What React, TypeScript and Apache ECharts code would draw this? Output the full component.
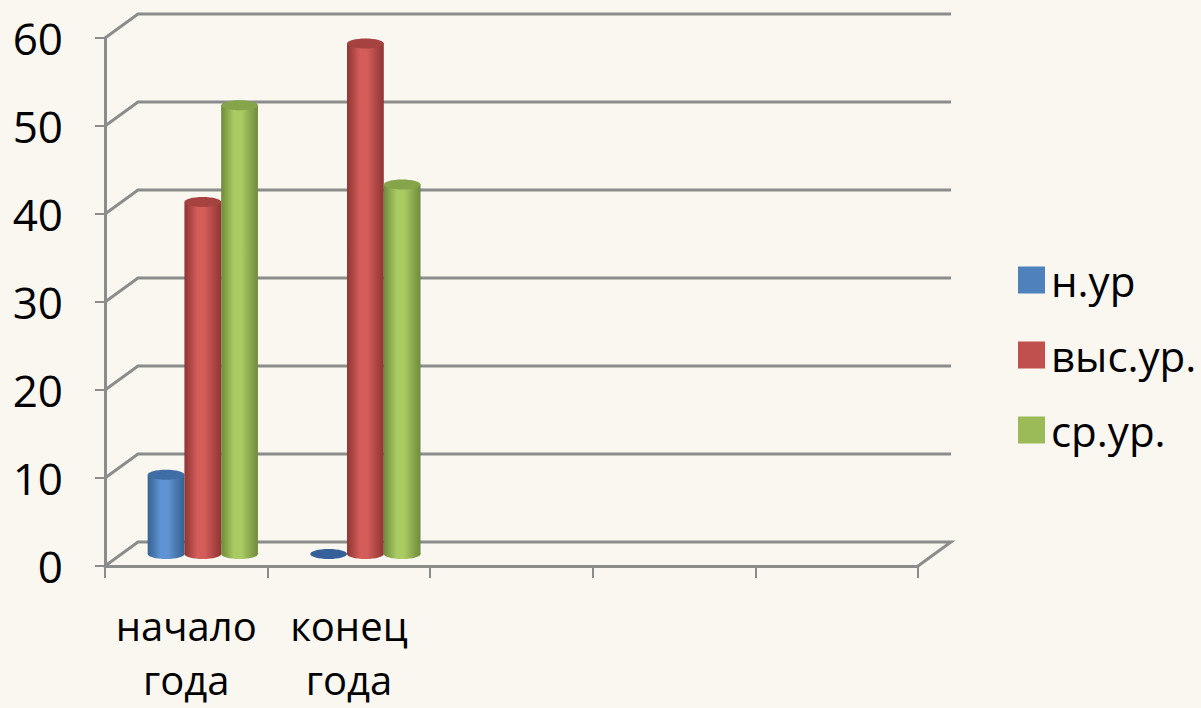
import React, { useEffect, useRef } from "react";
import * as echarts from "echarts";

const categories = ["начало\nгода", "конец\nгода", "", "", ""];
const seriesNames = ["н.ур", "выс.ур.", "ср.ур."];
const lowValues = [9, 0];
const highValues = [40, 58];
const midValues = [51, 42];
const yTicks = [0, 10, 20, 30, 40, 50, 60];

const FONT = "'Open Sans', 'Noto Sans', sans-serif";
const BG = "#FAF7F0";
const GRID = "#8C8C8C";
const DX = 33;
const DY = -24;

const palettes = [
  { base: "#4F81BD", light: "#5F93D3", dark: "#36618F", top: "#3F6DA6" },
  { base: "#C0504D", light: "#D45C59", dark: "#8F3533", top: "#A64240" },
  { base: "#9BBB59", light: "#A9CB62", dark: "#6F8A3B", top: "#86A449" },
];

function cylinderSeries(name: string, values: number[], idx: number) {
  const p = palettes[idx];
  return {
    type: "custom",
    name,
    itemStyle: { color: p.base },
    data: values.map((v, i) => [i, v]),
    z: 10,
    renderItem: (params: any, api: any) => {
      const cat = api.value(0);
      const val = api.value(1);
      const band = api.size([1, 0])[0];
      const w = band * 0.226;
      const c = api.coord([cat, 0]);
      const top = api.coord([cat, val]);
      const cx = c[0] + (idx - 1) * w + DX / 2;
      const by = c[1] + DY / 2;
      const ty = top[1] + DY / 2;
      const rx = w / 2;
      const ry = 5;
      if (val <= 0) {
        return {
          type: "ellipse",
          shape: { cx, cy: by, rx, ry },
          style: { fill: "#35609A" },
        };
      }
      const grad = new echarts.graphic.LinearGradient(0, 0, 1, 0, [
        { offset: 0, color: p.dark },
        { offset: 0.35, color: p.light },
        { offset: 0.55, color: p.light },
        { offset: 1, color: p.dark },
      ]);
      return {
        type: "group",
        children: [
          {
            type: "ellipse",
            shape: { cx, cy: by, rx, ry },
            style: { fill: grad },
          },
          {
            type: "rect",
            shape: { x: cx - rx, y: ty, width: w, height: by - ty },
            style: { fill: grad },
          },
          {
            type: "ellipse",
            shape: { cx, cy: ty, rx, ry },
            style: { fill: p.top },
          },
        ],
      };
    },
  };
}

export default function App() {
  const ref = useRef<HTMLDivElement>(null);
  useEffect(() => {
    document.body.style.margin = "0";
    document.body.style.background = BG;
    const chart = echarts.init(ref.current!, undefined, { renderer: "svg" });
    chart.setOption({
      animation: false,
      backgroundColor: BG,
      color: palettes.map((p) => p.base),
      grid: { left: 105, top: 38, width: 813, height: 528, outerBoundsMode: "none", containLabel: false },
      legend: {
        orient: "vertical",
        left: 1013,
        top: 254,
        icon: "rect",
        itemWidth: 27,
        itemHeight: 27,
        itemGap: 33,
        data: seriesNames,
        textStyle: { fontSize: 42, fontFamily: FONT, color: "#000", lineHeight: 40, padding: [0, 0, 0, 1] },
      },
      xAxis: {
        type: "category",
        data: categories,
        boundaryGap: true,
        axisLine: { lineStyle: { color: GRID, width: 3 } },
        axisTick: { show: true, length: 12, interval: 0, lineStyle: { color: GRID, width: 2 } },
        axisLabel: {
          interval: 0,
          fontSize: 40,
          fontFamily: FONT,
          color: "#000",
          lineHeight: 54,
          margin: 32,
        },
        splitLine: { show: false },
      },
      yAxis: {
        type: "value",
        min: 0,
        max: 60,
        interval: 10,
        axisLine: { show: true, lineStyle: { color: GRID, width: 3 } },
        axisTick: { show: true, length: 10, lineStyle: { color: GRID, width: 2 } },
        axisLabel: { fontSize: 44, fontFamily: FONT, color: "#000", margin: 42 },
        splitLine: { show: false },
      },
      series: [
        {
          type: "custom",
          name: "walls",
          silent: true,
          z: 1,
          data: yTicks.map((v) => [0, v]),
          renderItem: (params: any, api: any) => {
            const cs = params.coordSys;
            const v = api.value(1);
            const y = api.coord([0, v])[1];
            const x0 = cs.x;
            const x1 = cs.x + cs.width;
            const pts: number[][] = [
              [x0, y],
              [x0 + DX, y + DY],
              [x1 + DX, y + DY],
            ];
            if (v === 0) pts.push([x1, y]);
            return {
              type: "polyline",
              shape: { points: pts },
              style: { stroke: GRID, lineWidth: 3, fill: "none" },
            };
          },
        },
        cylinderSeries(seriesNames[0], lowValues, 0),
        cylinderSeries(seriesNames[1], highValues, 1),
        cylinderSeries(seriesNames[2], midValues, 2),
      ],
    });
    return () => chart.dispose();
  }, []);
  return <div ref={ref} style={{ width: 1201, height: 708 }} />;
}
